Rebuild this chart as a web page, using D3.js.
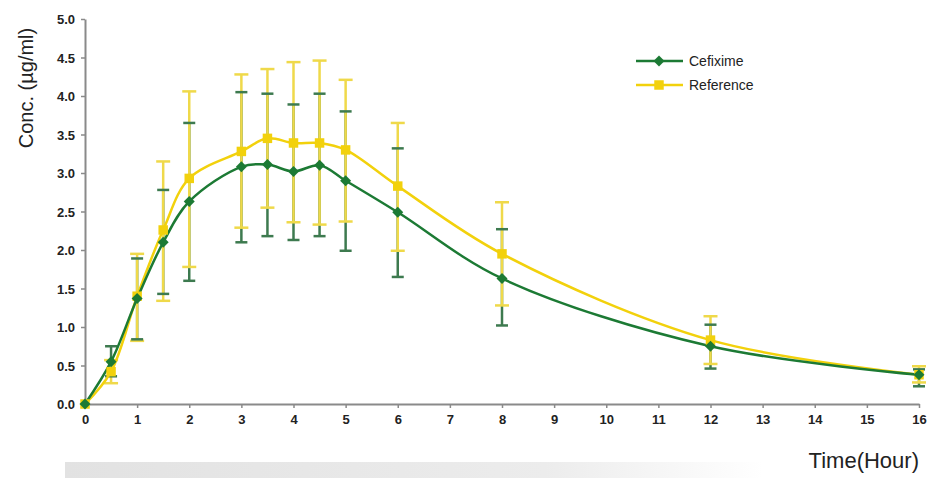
<!DOCTYPE html>
<html>
<head>
<meta charset="utf-8">
<script src="https://cdn.jsdelivr.net/npm/d3@7"></script>
<style>
  body { margin: 0; background: #fff; }
  svg { display: block; font-family: Arial, "Liberation Sans", sans-serif; }
</style>
</head>
<body>
<svg id="chart" width="938" height="478"></svg>
<script>
// sampling times (hours)
var times = [0, 0.5, 1, 1.5, 2, 3, 3.5, 4, 4.5, 5, 6, 8, 12, 16];

// Cefixime mean and error bar limits
var cefMean = [0, 0.55, 1.37, 2.10, 2.63, 3.08, 3.11, 3.02, 3.10, 2.90, 2.49, 1.63, 0.75, 0.38];
var cefUpper = [0, 0.75, 1.89, 2.78, 3.65, 4.05, 4.03, 3.89, 4.03, 3.80, 3.32, 2.27, 1.03, 0.45];
var cefLower = [0, 0.36, 0.84, 1.43, 1.60, 2.10, 2.18, 2.13, 2.18, 1.99, 1.65, 1.02, 0.46, 0.23];

// Reference mean and error bar limits
var refMean = [0, 0.42, 1.40, 2.26, 2.93, 3.28, 3.45, 3.39, 3.39, 3.30, 2.83, 1.95, 0.83, 0.38];
var refUpper = [0, 0.57, 1.95, 3.15, 4.06, 4.28, 4.35, 4.44, 4.46, 4.21, 3.65, 2.62, 1.14, 0.49];
var refLower = [0, 0.27, 0.82, 1.34, 1.78, 2.29, 2.55, 2.36, 2.33, 2.37, 1.99, 1.28, 0.52, 0.28];

var xTicks = d3.range(0, 17, 1);
var yTicks = d3.range(0, 5.01, 0.5);

var greenLine = '#1c7a34', greenErr = '#3d7a4f';
var yellowLine = '#f2d10c', yellowErr = '#efd94a';

var svg = d3.select('#chart');
var x = d3.scaleLinear().domain([0, 16]).range([85, 919]);
var y = d3.scaleLinear().domain([0, 5]).range([404, 19]);

// grey band along the bottom edge
var grad = svg.append('defs').append('linearGradient').attr('id', 'band');
grad.append('stop').attr('offset', '0%').attr('stop-color', '#e2e2e2');
grad.append('stop').attr('offset', '55%').attr('stop-color', '#ececec');
grad.append('stop').attr('offset', '80%').attr('stop-color', '#ffffff');
svg.append('rect').attr('x', 65).attr('y', 462).attr('width', 873).attr('height', 16).attr('fill', 'url(#band)');

// axes
var xAxis = svg.append('g').attr('transform', 'translate(0,404)')
    .call(d3.axisBottom(x).tickValues(xTicks).tickSize(4).tickSizeOuter(0).tickPadding(7).tickFormat(d3.format('d')));
var yAxis = svg.append('g').attr('transform', 'translate(85,0)')
    .call(d3.axisLeft(y).tickValues(yTicks).tickSize(4).tickSizeOuter(0).tickPadding(6).tickFormat(d3.format('.1f')));
[xAxis, yAxis].forEach(function (a) {
    a.select('.domain').attr('stroke', '#8a8a8a').attr('stroke-width', 2);
    a.selectAll('.tick line').attr('stroke', '#8a8a8a').attr('stroke-width', 1.5);
    a.selectAll('.tick text').attr('fill', '#222').attr('font-size', 13).attr('font-weight', 'bold')
        .attr('font-family', 'Arial, "Liberation Sans", sans-serif');
});
yAxis.selectAll('.tick text').attr('dy', '0.35em');

// axis titles
svg.append('text').attr('transform', 'translate(33,88) rotate(-90)').attr('text-anchor', 'middle')
    .attr('font-size', 20).attr('fill', '#222').text('Conc. (µg/ml)');
svg.append('text').attr('x', 919).attr('y', 468).attr('text-anchor', 'end')
    .attr('font-size', 22).attr('fill', '#222').text('Time(Hour)');

function series(mean, upper, lower) {
    return times.map(function (t, i) { return {t: t, m: mean[i], hi: upper[i], lo: lower[i]}; });
}
var cef = series(cefMean, cefUpper, cefLower);
var ref = series(refMean, refUpper, refLower);

function errorBars(data, color) {
    var g = svg.append('g');
    var rows = data.filter(function (d) { return d.t > 0; });
    g.selectAll('line').data(rows).enter().append('line')
        .attr('x1', function (d) { return x(d.t); }).attr('x2', function (d) { return x(d.t); })
        .attr('y1', function (d) { return y(d.hi); }).attr('y2', function (d) { return y(d.lo); })
        .attr('stroke', color).attr('stroke-width', 2.5);
}
function caps(data, color, cap) {
    var g = svg.append('g');
    var rows = data.filter(function (d) { return d.t > 0; });
    ['hi', 'lo'].forEach(function (k) {
        g.selectAll('line.' + k).data(rows).enter().append('line').attr('class', k)
            .attr('x1', function (d) { return x(d.t) - cap; }).attr('x2', function (d) { return x(d.t) + cap; })
            .attr('y1', function (d) { return y(d[k]); }).attr('y2', function (d) { return y(d[k]); })
            .attr('stroke', color).attr('stroke-width', 2.5);
    });
}

errorBars(cef, greenErr);
errorBars(ref, yellowErr);
caps(ref, yellowErr, 7);
caps(cef, greenErr, 6);

var line = d3.line().x(function (d) { return x(d.t); }).y(function (d) { return y(d.m); })
    .curve(d3.curveCatmullRom.alpha(0.5));

svg.append('path').datum(ref).attr('d', line).attr('fill', 'none').attr('stroke', yellowLine).attr('stroke-width', 2.5);
svg.append('path').datum(cef).attr('d', line).attr('fill', 'none').attr('stroke', greenLine).attr('stroke-width', 2.5);

var diamond = d3.symbol().type(d3.symbolSquare).size(60);
var square = d3.symbol().type(d3.symbolSquare).size(90);

svg.append('g').selectAll('path').data(ref).enter().append('path')
    .attr('d', square).attr('fill', yellowLine)
    .attr('transform', function (d) { return 'translate(' + x(d.t) + ',' + y(d.m) + ')'; });
svg.append('g').selectAll('path').data(cef).enter().append('path')
    .attr('d', diamond).attr('fill', greenLine)
    .attr('transform', function (d) { return 'translate(' + x(d.t) + ',' + y(d.m) + ') rotate(45)'; });

// legend
var legend = [
    {name: 'Cefixime', color: greenLine, sym: diamond, rot: 45},
    {name: 'Reference', color: yellowLine, sym: square, rot: 0}
];
var lg = svg.append('g').selectAll('g').data(legend).enter().append('g')
    .attr('transform', function (d, i) { return 'translate(636,' + (61 + i * 24) + ')'; });
lg.append('line').attr('x1', 0).attr('x2', 47).attr('stroke', function (d) { return d.color; }).attr('stroke-width', 2.5);
lg.append('path').attr('d', function (d) { return d.sym(); }).attr('fill', function (d) { return d.color; })
    .attr('transform', function (d) { return 'translate(23,0) rotate(' + d.rot + ')'; });
lg.append('text').attr('x', 53).attr('dy', '0.35em').attr('font-size', 14).attr('fill', '#222')
    .text(function (d) { return d.name; });
</script>
</body>
</html>
